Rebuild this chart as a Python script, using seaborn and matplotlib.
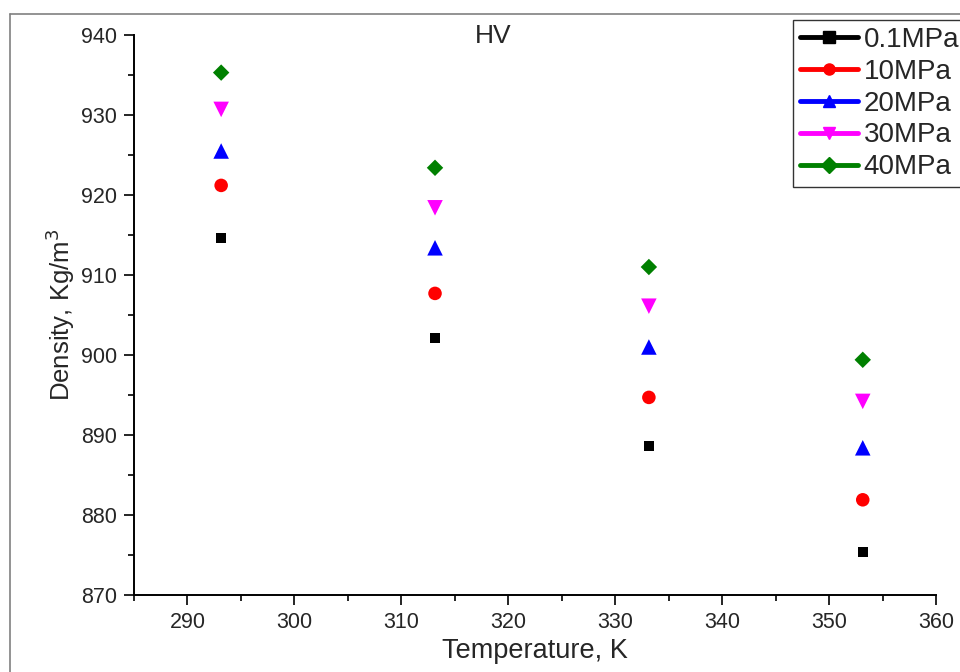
import pandas as pd
import matplotlib
matplotlib.use("Agg")
import matplotlib.pyplot as plt
from matplotlib.lines import Line2D
from matplotlib.ticker import MultipleLocator
import seaborn as sns

# Data
temperatures = [293.15, 313.15, 333.15, 353.15]
pressures = ["0.1MPa", "10MPa", "20MPa", "30MPa", "40MPa"]
density_01 = [914.6, 902.1, 888.6, 875.4]
density_10 = [921.2, 907.7, 894.7, 881.9]
density_20 = [925.5, 913.4, 901.0, 888.4]
density_30 = [930.7, 918.4, 906.1, 894.2]
density_40 = [935.3, 923.4, 911.0, 899.4]

colors = {"0.1MPa": "black", "10MPa": "red", "20MPa": "blue",
          "30MPa": "magenta", "40MPa": "green"}
markers = {"0.1MPa": "s", "10MPa": "o", "20MPa": "^", "30MPa": "v", "40MPa": "D"}
sizes = {"0.1MPa": 52, "10MPa": 95, "20MPa": 125, "30MPa": 125, "40MPa": 70}

rows = []
for p, vals in zip(pressures, [density_01, density_10, density_20, density_30, density_40]):
    for t, d in zip(temperatures, vals):
        rows.append({"Temperature": t, "Density": d, "Pressure": p})
df = pd.DataFrame(rows)

sns.set_style("ticks")
plt.rcParams["font.family"] = ["Liberation Sans", "DejaVu Sans"]

fig = plt.figure(figsize=(9.6, 6.72), dpi=100)
ax = fig.add_axes([134 / 960, 1 - 595 / 672, 802 / 960, 560 / 672])

sns.scatterplot(data=df, x="Temperature", y="Density", hue="Pressure", style="Pressure",
                size="Pressure", sizes=sizes, palette=colors, markers=markers,
                hue_order=pressures, style_order=pressures, size_order=pressures,
                linewidth=0, legend=False, ax=ax)

ax.set_xlim(285, 360)
ax.set_ylim(870, 940)
ax.xaxis.set_major_locator(MultipleLocator(10))
ax.xaxis.set_minor_locator(MultipleLocator(5))
ax.yaxis.set_major_locator(MultipleLocator(10))
ax.yaxis.set_minor_locator(MultipleLocator(5))
ax.tick_params(which="major", direction="out", length=7, width=1.2, labelsize=15.5,
               color="black", pad=5)
ax.tick_params(which="minor", direction="out", length=4, width=1.2, color="black")
for s in ["top", "right"]:
    ax.spines[s].set_visible(False)
for s in ["left", "bottom"]:
    ax.spines[s].set_color("black")
    ax.spines[s].set_linewidth(1.4)

ax.set_xlabel("Temperature, K", fontsize=19.5, labelpad=4)
ax.set_ylabel("Density, Kg/m$^3$", fontsize=18.5, labelpad=3)
ax.text(0.448, 0.999, "HV", transform=ax.transAxes, ha="center", va="center", fontsize=19)

handles = [Line2D([], [], color=colors[p], marker=markers[p], lw=3.5, markersize=8)
           for p in pressures]
leg = fig.legend(handles, pressures, loc="upper left", bbox_to_anchor=(793 / 960, 1 - 20 / 672),
                 fontsize=20, frameon=True, fancybox=False, handlelength=2.1,
                 handletextpad=0.2, labelspacing=0.21, borderpad=0.25, borderaxespad=0)
leg.get_frame().set_edgecolor("black")
leg.get_frame().set_linewidth(1.0)

# outer frame lines (top and left)
fig.add_artist(Line2D([10 / 960, 1], [1 - 14 / 672, 1 - 14 / 672], color="gray", lw=1.2))
fig.add_artist(Line2D([10 / 960, 10 / 960], [0, 1 - 14 / 672], color="gray", lw=1.2))

fig.savefig("out.png", dpi=100)
